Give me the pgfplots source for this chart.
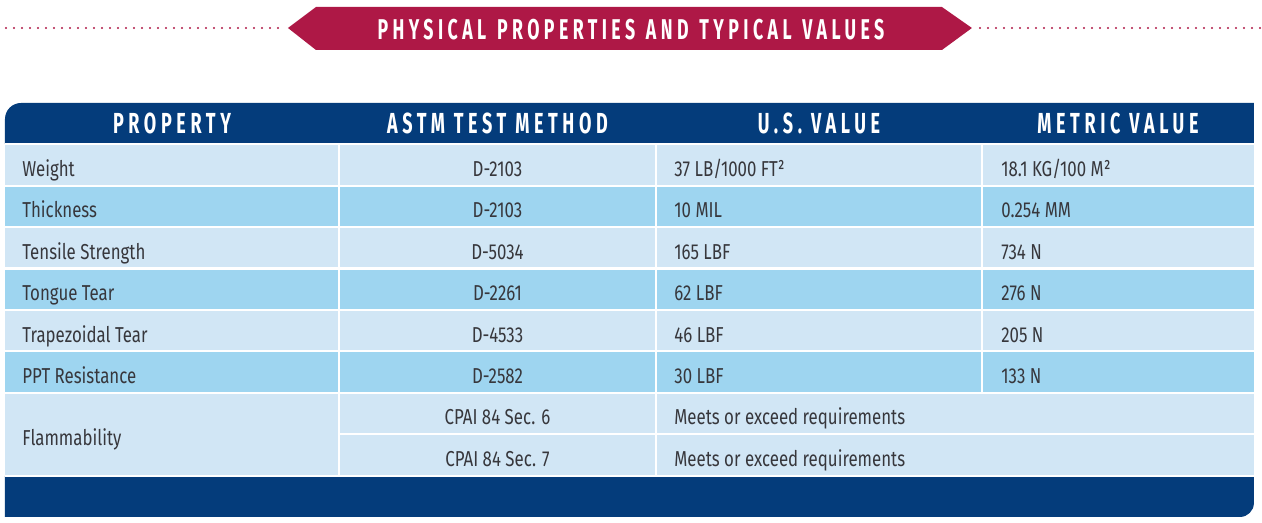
\documentclass[border=0pt]{standalone}
\usepackage{fontspec}
\usepackage{pgfplots}
\pgfplotsset{compat=1.18}
\setmainfont{Fira Sans}
\newfontfamily\bodyfont[FakeStretch=0.78]{Fira Sans}
\newfontfamily\headfont[FakeStretch=0.62,LetterSpace=16]{Fira Sans}
\newfontfamily\bannerfont[FakeStretch=0.62,LetterSpace=15.5,WordSpace=1.25]{Fira Sans}
\definecolor{bannerred}{RGB}{174,24,70}
\definecolor{hdrblue}{RGB}{4,60,123}
\definecolor{rowlight}{RGB}{209,230,245}
\definecolor{rowmed}{RGB}{158,213,240}
\definecolor{txt}{RGB}{55,55,60}
\begin{document}
\begin{tikzpicture}
\begin{axis}[scale only axis, width=631pt, height=261.5pt,
  xmin=0, xmax=1262, ymin=0, ymax=523, y dir=reverse,
  hide axis, clip=false]
% bounding box
\path (0,0) rectangle (1262,523);
% dotted lines
\draw[bannerred, line width=1.1pt, line cap=round, dash pattern=on 0pt off 4pt] (6,28) -- (282,28);
\draw[bannerred, line width=1.1pt, line cap=round, dash pattern=on 0pt off 4pt] (980,28) -- (1261,28);
% banner
\fill[bannerred] (288,28) -- (316,7) -- (942,7) -- (972,28) -- (942,50) -- (316,50) -- cycle;
\node[anchor=base, text=white, inner sep=0pt, font=\bannerfont\bfseries\fontsize{14.3}{14.3}\selectfont] at (631,40) {PHYSICAL PROPERTIES AND TYPICAL VALUES};
% header
\fill[hdrblue] (5,144) [rounded corners=8pt] -- (5,103) [sharp corners] -- (1254,103) -- (1254,144) -- cycle;
% body backgrounds
\fill[rowlight] (5,144) rectangle (1254,476);
\fill[rowmed] (5,185.8) rectangle (1254,227.2);
\fill[rowmed] (5,268.6) rectangle (1254,310);
\fill[rowmed] (5,351.4) rectangle (1254,392.8);
% footer
\fill[hdrblue] (5,476) -- (5,517) [rounded corners=7pt] -- (1254,517) [sharp corners] -- (1254,476) -- cycle;
% white grid lines
\draw[white, line width=1.1pt] (5,144) -- (1254,144);
\draw[white, line width=1.1pt] (5,185.8) -- (1254,185.8);
\draw[white, line width=1.1pt] (5,227.2) -- (1254,227.2);
\draw[white, line width=1.1pt] (5,268.6) -- (1254,268.6);
\draw[white, line width=1.1pt] (5,310) -- (1254,310);
\draw[white, line width=1.1pt] (5,351.4) -- (1254,351.4);
\draw[white, line width=1.1pt] (5,392.8) -- (1254,392.8);
\draw[white, line width=1.1pt] (5,476) -- (1254,476);
\draw[white, line width=1.1pt] (339,434.4) -- (1254,434.4);
\draw[white, line width=1.1pt] (339,144) -- (339,476);
\draw[white, line width=1.1pt] (656,144) -- (656,476);
\draw[white, line width=1.1pt] (982,144) -- (982,392.8);
% header texts
\begin{scope}[every node/.style={anchor=base, text=white, inner sep=0pt, font=\headfont\bfseries\fontsize{14.5}{14.5}\selectfont}]
\node at (172,134) {PROPERTY};
\node at (497.5,134) {ASTM TEST METHOD};
\node at (819,134) {U.S. VALUE};
\node at (1118,134) {METRIC VALUE};
\end{scope}
% body texts
\begin{scope}[every node/.style={text=txt, inner sep=0pt, font=\bodyfont\fontsize{10.8}{10.8}\selectfont}]
\node[anchor=base west] at (22,176.5) {Weight};
\node[anchor=base west] at (22,218) {Thickness};
\node[anchor=base west] at (22,259.4) {Tensile Strength};
\node[anchor=base west] at (22,300.8) {Tongue Tear};
\node[anchor=base west] at (22,342.2) {Trapezoidal Tear};
\node[anchor=base west] at (22,383.6) {PPT Resistance};
\node[anchor=base west] at (22,445.6) {Flammability};
\node[anchor=base] at (497.5,176.5) {D-2103};
\node[anchor=base] at (497.5,218) {D-2103};
\node[anchor=base] at (497.5,259.4) {D-5034};
\node[anchor=base] at (497.5,300.8) {D-2261};
\node[anchor=base] at (497.5,342.2) {D-4533};
\node[anchor=base] at (497.5,383.6) {D-2582};
\node[anchor=base] at (497.5,424.8) {CPAI 84 Sec. 6};
\node[anchor=base] at (497.5,466.4) {CPAI 84 Sec. 7};
\node[anchor=base west] at (674,176.5) {37 LB/1000 FT²};
\node[anchor=base west] at (674,218) {10 MIL};
\node[anchor=base west] at (674,259.4) {165 LBF};
\node[anchor=base west] at (674,300.8) {62 LBF};
\node[anchor=base west] at (674,342.2) {46 LBF};
\node[anchor=base west] at (674,383.6) {30 LBF};
\node[anchor=base west] at (674,424.8) {Meets or exceed requirements};
\node[anchor=base west] at (674,466.4) {Meets or exceed requirements};
\node[anchor=base west] at (1001,176.5) {18.1 KG/100 M²};
\node[anchor=base west] at (1001,218) {0.254 MM};
\node[anchor=base west] at (1001,259.4) {734 N};
\node[anchor=base west] at (1001,300.8) {276 N};
\node[anchor=base west] at (1001,342.2) {205 N};
\node[anchor=base west] at (1001,383.6) {133 N};
\end{scope}
\end{axis}
\end{tikzpicture}
\end{document}
